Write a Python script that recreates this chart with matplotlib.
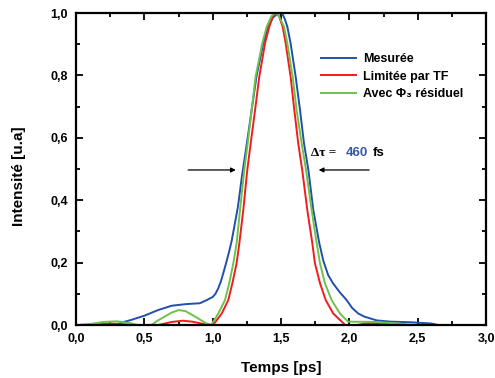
import matplotlib
matplotlib.use("Agg")
import matplotlib.pyplot as plt
from matplotlib.ticker import MultipleLocator, FuncFormatter

plt.rcParams["font.family"] = ["Liberation Sans", "DejaVu Sans"]

# Mesurée (blue)
t_mes = [0.0, 0.25, 0.3, 0.35, 0.4, 0.5, 0.6, 0.7, 0.8, 0.907, 0.956, 1.0, 1.02, 1.041,
         1.06, 1.08, 1.102, 1.12, 1.139, 1.16, 1.185, 1.215, 1.25, 1.285, 1.32, 1.37, 1.407,
         1.44, 1.475, 1.5, 1.515, 1.53, 1.546, 1.57, 1.607, 1.639, 1.668, 1.7, 1.736, 1.78,
         1.81, 1.845, 1.88, 1.93, 1.98, 2.02, 2.065, 2.11, 2.2, 2.3, 2.45, 2.6, 2.65, 3.0]
i_mes = [0.0, 0.0, 0.003, 0.01, 0.016, 0.03, 0.048, 0.062, 0.067, 0.07, 0.08, 0.09, 0.1,
         0.118, 0.14, 0.17, 0.205, 0.235, 0.27, 0.32, 0.38, 0.48, 0.582, 0.689, 0.796, 0.903,
         0.956, 0.985, 0.998, 1.0, 0.993, 0.978, 0.956, 0.903, 0.796, 0.689, 0.582, 0.497,
         0.369, 0.262, 0.205, 0.16, 0.134, 0.105, 0.08, 0.055, 0.037, 0.027, 0.015, 0.011,
         0.009, 0.005, 0.0, 0.0]

# Limitée par TF (red)
t_tf = [0.0, 0.15, 0.25, 0.35, 0.45, 0.6, 0.7, 0.78, 0.85, 0.95, 1.0, 1.022, 1.066, 1.114,
        1.144, 1.175, 1.195, 1.224, 1.253, 1.278, 1.31, 1.341, 1.383, 1.414, 1.44, 1.455,
        1.47, 1.485, 1.512, 1.534, 1.57, 1.597, 1.626, 1.655, 1.692, 1.729, 1.748, 1.785,
        1.827, 1.882, 1.944, 1.97, 2.05, 2.15, 2.3, 2.4, 3.0]
i_tf = [0.0, 0.002, 0.005, 0.003, 0.0, 0.0, 0.01, 0.014, 0.011, 0.002, 0.0, 0.011, 0.037,
        0.08, 0.134, 0.198, 0.262, 0.369, 0.497, 0.582, 0.689, 0.796, 0.903, 0.956, 0.99,
        0.998, 0.998, 0.99, 0.956, 0.903, 0.796, 0.689, 0.582, 0.497, 0.369, 0.262, 0.198,
        0.134, 0.08, 0.037, 0.011, 0.0, 0.0, 0.007, 0.005, 0.0, 0.0]

# Avec Phi3 résiduel (green)
t_phi = [0.0, 0.1, 0.2, 0.3, 0.4, 0.45, 0.55, 0.6, 0.7, 0.75, 0.8, 0.88, 0.95, 0.99, 1.005,
         1.041, 1.09, 1.121, 1.151, 1.175, 1.2, 1.231, 1.256, 1.285, 1.314, 1.363, 1.395,
         1.43, 1.455, 1.47, 1.49, 1.522, 1.546, 1.585, 1.614, 1.651, 1.683, 1.724, 1.761,
         1.785, 1.821, 1.87, 1.931, 1.99, 2.2, 2.35, 2.5, 3.0]
i_phi = [0.0, 0.003, 0.01, 0.012, 0.006, 0.0, 0.0, 0.015, 0.04, 0.048, 0.045, 0.025, 0.006,
         0.0, 0.011, 0.037, 0.08, 0.134, 0.198, 0.262, 0.369, 0.497, 0.582, 0.689, 0.796,
         0.903, 0.956, 0.99, 0.999, 0.998, 0.985, 0.956, 0.903, 0.796, 0.689, 0.582, 0.497,
         0.369, 0.262, 0.198, 0.134, 0.08, 0.037, 0.011, 0.01, 0.005, 0.0, 0.0]

BLUE = "#2150aa"
RED = "#f21c1c"
GREEN = "#6cc24a"

fig = plt.figure(figsize=(4.95, 3.78), dpi=100)
ax = fig.add_axes([0.1535, 0.140, 0.8285, 0.8256])

ax.plot(t_mes, i_mes, color=BLUE, lw=1.4, label="Mesurée")
ax.plot(t_tf, i_tf, color=RED, lw=1.4, label="Limitée par TF")
ax.plot(t_phi, i_phi, color=GREEN, lw=1.4, label="Avec Φ₃ résiduel")

ax.set_xlim(0, 3)
ax.set_ylim(0, 1)
ax.xaxis.set_major_locator(MultipleLocator(0.5))
ax.xaxis.set_minor_locator(MultipleLocator(0.25))
ax.yaxis.set_major_locator(MultipleLocator(0.2))
ax.yaxis.set_minor_locator(MultipleLocator(0.1))
comma = FuncFormatter(lambda v, p: f"{v:.1f}".replace(".", ","))
ax.xaxis.set_major_formatter(comma)
ax.yaxis.set_major_formatter(comma)
ax.tick_params(which="both", direction="in", top=True, right=True, width=1.3)
ax.tick_params(which="major", length=5, labelsize=9, pad=6)
ax.tick_params(which="minor", length=3)
for lab in ax.get_xticklabels() + ax.get_yticklabels():
    lab.set_fontweight("bold")
for sp in ax.spines.values():
    sp.set_linewidth(1.6)

ax.set_xlabel("Temps [ps]", fontsize=11, fontweight="bold")
ax.set_ylabel("Intensité [u.a]", fontsize=11, fontweight="bold")
ax.xaxis.set_label_coords(0.5, -0.115)
ax.yaxis.set_label_coords(-0.122, 0.478)

leg = ax.legend(loc="upper left", bbox_to_anchor=(0.597, 0.872), frameon=False,
                fontsize=9, handlelength=2.8, handletextpad=0.6, labelspacing=0.45,
                borderpad=0, borderaxespad=0)
for txt in leg.get_texts():
    txt.set_fontweight("bold")

# FWHM arrows
ax.annotate("", xy=(1.19, 0.497), xytext=(0.80, 0.497),
            arrowprops=dict(arrowstyle="-|>", color="black", lw=0.9, mutation_scale=7))
ax.annotate("", xy=(1.755, 0.497), xytext=(2.165, 0.497),
            arrowprops=dict(arrowstyle="-|>", color="black", lw=0.9, mutation_scale=7))
ax.text(1.72, 0.55, "Δτ =", fontsize=9.5, fontweight="bold", va="center", ha="left",
        family=["Liberation Serif", "DejaVu Serif"])
ax.text(1.97, 0.55, "460", fontsize=9.5, fontweight="bold", va="center", ha="left", color="#3458a8")
ax.text(2.17, 0.55, "fs", fontsize=9.5, fontweight="bold", va="center", ha="left")

fig.savefig("out.png", dpi=100, facecolor="white")
